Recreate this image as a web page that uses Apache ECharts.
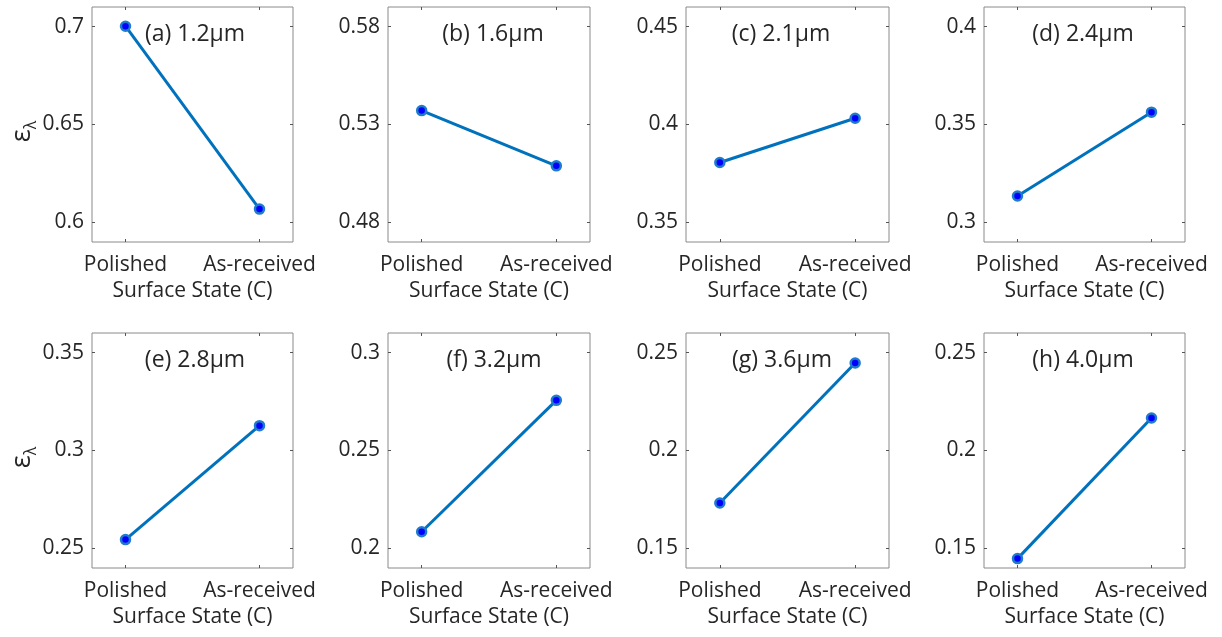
<!DOCTYPE html>
<html>
<head>
<meta charset="utf-8">
<script src="https://cdn.jsdelivr.net/npm/echarts@6/dist/echarts.min.js"></script>
<style>
html,body{margin:0;padding:0;background:#fff;}
#chart{width:1222px;height:637px;}
</style>
</head>
<body>
<div id="chart"></div>
<script>
// ---- data ----
const categories = ['Polished', 'As-received'];
const panelTitles = ['(a) 1.2μm', '(b) 1.6μm', '(c) 2.1μm', '(d) 2.4μm', '(e) 2.8μm', '(f) 3.2μm', '(g) 3.6μm', '(h) 4.0μm'];
const polished   = [0.7002, 0.5371, 0.3806, 0.3135, 0.2545, 0.2085, 0.1732, 0.1448];
const asReceived = [0.6068, 0.5089, 0.4032, 0.3563, 0.3127, 0.2756, 0.2447, 0.2166];
const yTicks = [
  [0.6, 0.65, 0.7], [0.48, 0.53, 0.58], [0.35, 0.4, 0.45], [0.3, 0.35, 0.4],
  [0.25, 0.3, 0.35], [0.2, 0.25, 0.3], [0.15, 0.2, 0.25], [0.15, 0.2, 0.25]
];
const xName = 'Surface State (C)';
const yName = '{e|ε}{s|λ}';

// ---- layout ----
const colLeft = [92, 388, 686, 984];
const colWidth = [201, 202, 203, 201];
const rowTop = [7, 333];
const rowHeight = [235, 235];
const titleCx = [[195, 493, 781, 1083], [195, 494, 782, 1083]];
const titleDy = 27;
const yNameX = 22, yNameDy = 7;

const FONT = '"Open Sans", "Noto Sans", sans-serif';
const TXT = '#262626';
const BOX = '#8a8a8a';

const grid = [], xAxis = [], yAxis = [], series = [], graphic = [];
for (let i = 0; i < 8; i++) {
  const r = Math.floor(i / 4), c = i % 4;
  grid.push({
    left: colLeft[c], top: rowTop[r], width: colWidth[c], height: rowHeight[r],
    show: true, borderColor: BOX, borderWidth: 1, backgroundColor: 'transparent',
    containLabel: false, outerBoundsMode: 'none'
  });
  const t = yTicks[i];
  const ymin = +(t[0] - 0.01).toFixed(3), ymax = +(t[t.length - 1] + 0.01).toFixed(3);
  xAxis.push({
    type: 'value', gridIndex: i, min: 0.75, max: 2.25, position: 'bottom',
    axisLine: {show: false}, splitLine: {show: false},
    axisTick: {show: true, inside: true, length: 3, customValues: [1, 2], lineStyle: {color: '#555'}},
    axisLabel: {show: true, customValues: [1, 2], margin: 13, color: TXT, fontFamily: FONT, fontSize: 21,
      formatter: v => categories[Math.round(v) - 1] || ''},
    name: xName, nameLocation: 'middle', nameGap: 39, nameMoveOverlap: false,
    nameTextStyle: {color: TXT, fontFamily: FONT, fontSize: 21}
  });
  xAxis.push({
    type: 'value', gridIndex: i, min: 0.75, max: 2.25, position: 'top',
    axisLine: {show: false}, splitLine: {show: false},
    axisTick: {show: true, inside: true, length: 3, customValues: [1, 2], lineStyle: {color: '#555'}},
    axisLabel: {show: false}
  });
  yAxis.push({
    type: 'value', gridIndex: i, min: ymin, max: ymax, position: 'left',
    axisLine: {show: false}, splitLine: {show: false},
    axisTick: {show: true, inside: true, length: 3, customValues: t, lineStyle: {color: '#555'}},
    axisLabel: {show: true, customValues: t, margin: 8, color: TXT, fontFamily: FONT, fontSize: 21,
      formatter: v => String(+(+v).toFixed(2))}
  });
  yAxis.push({
    type: 'value', gridIndex: i, min: ymin, max: ymax, position: 'right',
    axisLine: {show: false}, splitLine: {show: false},
    axisTick: {show: true, inside: true, length: 3, customValues: t, lineStyle: {color: '#555'}},
    axisLabel: {show: false}
  });
  series.push({
    type: 'line', xAxisIndex: 2 * i, yAxisIndex: 2 * i,
    data: [[1, polished[i]], [2, asReceived[i]]],
    lineStyle: {color: '#0072BD', width: 3},
    symbol: 'circle', symbolSize: 9,
    itemStyle: {color: '#0000ff', borderColor: '#1f7ccc', borderWidth: 2.5},
    emphasis: {disabled: true}, animation: false, z: 3
  });
  graphic.push({
    type: 'text', x: titleCx[r][c], y: rowTop[r] + titleDy, z: 10,
    style: {text: panelTitles[i], fill: TXT, font: '23px ' + FONT, textAlign: 'center', textVerticalAlign: 'middle'}
  });
  if (c === 0) {
    graphic.push({
      type: 'text', x: yNameX, y: rowTop[r] + rowHeight[r] / 2 + yNameDy, rotation: Math.PI / 2, z: 10,
      style: {
        text: yName, fill: TXT, align: 'center', verticalAlign: 'middle',
        rich: {
          e: {fontSize: 27, fontFamily: FONT, fill: TXT, lineHeight: 34, verticalAlign: 'middle'},
          s: {fontSize: 16, fontFamily: FONT, fill: TXT, lineHeight: 16, verticalAlign: 'bottom'}
        }
      }
    });
  }
}

const chart = echarts.init(document.getElementById('chart'), null, {renderer: 'canvas'});
chart.setOption({
  backgroundColor: '#ffffff',
  animation: false,
  grid, xAxis, yAxis, series, graphic,
  tooltip: {show: false}
});
</script>
</body>
</html>
